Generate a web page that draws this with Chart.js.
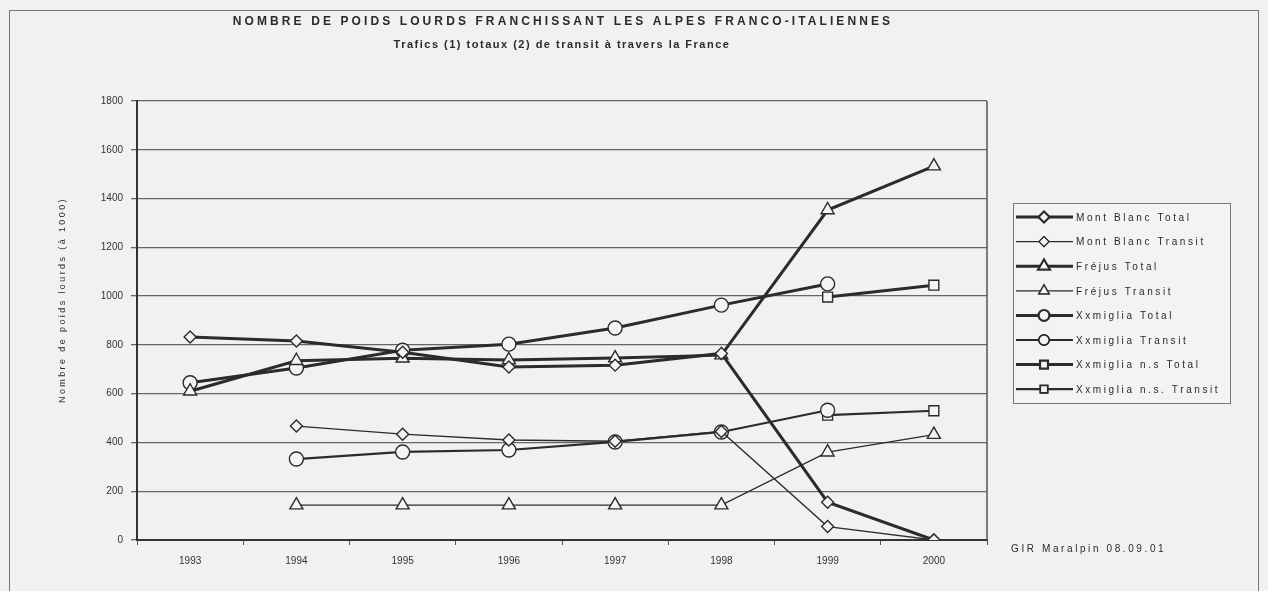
<!DOCTYPE html>
<html>
<head>
<meta charset="utf-8">
<script src="https://cdn.jsdelivr.net/npm/chart.js@4/dist/chart.umd.min.js"></script>
<style>
  html, body { margin: 0; padding: 0; background: #f1f1f0; }
  #wrap { position: relative; width: 1268px; height: 591px; overflow: hidden; }
  #frame { position: absolute; left: 9px; top: 10px; width: 1250px; height: 600px; border: 1px solid #777; box-sizing: border-box; }
  canvas { position: absolute; left: 0; top: 0; }
</style>
</head>
<body>
<div id="wrap">
  <div id="frame"></div>
  <canvas id="c" width="1268" height="591"></canvas>
</div>
<script>
const titleText = 'NOMBRE DE POIDS LOURDS FRANCHISSANT LES ALPES FRANCO-ITALIENNES';
const subtitleText = 'Trafics (1) totaux (2) de transit à travers la France';
const yAxisTitle = 'Nombre de poids lourds (à 1000)';
const sourceText = 'GIR Maralpin 08.09.01';

const years = ['1993', '1994', '1995', '1996', '1997', '1998', '1999', '2000'];
const yTicks = [0, 200, 400, 600, 800, 1000, 1200, 1400, 1600, 1800];

const seriesNames = ['Mont Blanc Total', 'Mont Blanc Transit', 'Fréjus Total', 'Fréjus Transit',
  'Xxmiglia Total', 'Xxmiglia Transit', 'Xxmiglia n.s Total', 'Xxmiglia n.s. Transit'];

const montBlancTotal   = [832, 816, 770, 709, 717, 765, 155, 0];
const montBlancTransit = [null, 467, 434, 410, 405, 445, 55, 0];
const frejusTotal      = [610, 735, 745, 738, 746, 758, 1353, 1533];
const frejusTransit    = [null, 143, 143, 143, 143, 143, 360, 432];
const xxmigliaTotal    = [645, 705, 778, 803, 869, 963, 1050, null];
const xxmigliaTransit  = [null, 332, 361, 369, 402, 443, 532, null];
const xxmigliaNsTotal  = [null, null, null, null, null, null, 996, 1045];
const xxmigliaNsTransit= [null, null, null, null, null, null, 512, 530];

const seriesData = [montBlancTotal, montBlancTransit, frejusTotal, frejusTransit,
  xxmigliaTotal, xxmigliaTransit, xxmigliaNsTotal, xxmigliaNsTransit];
const seriesMarkers = ['rectRot', 'rectRot', 'triangle', 'triangle', 'circle', 'circle', 'rect', 'rect'];
const seriesWidths = [3, 1.3, 3, 1.3, 3, 2.2, 3, 2.2];
const seriesRadius = [6, 6, 7.5, 7.5, 7, 7, 7, 7];

const ink = '#2b2b2b';
const markerFill = '#f4f4f4';
const FONT = '"Liberation Sans", Arial, sans-serif';

const datasets = seriesNames.map((name, i) => ({
  label: name,
  data: seriesData[i],
  borderColor: ink,
  borderWidth: seriesWidths[i],
  pointStyle: seriesMarkers[i],
  pointRadius: seriesRadius[i],
  pointBorderWidth: 1.4,
  pointBorderColor: ink,
  pointBackgroundColor: markerFill,
  tension: 0,
  spanGaps: false
}));

const decor = {
  id: 'decor',
  afterDraw(chart) {
    const ctx = chart.ctx;
    const area = chart.chartArea;
    ctx.save();
    // right border of plot
    ctx.strokeStyle = '#555';
    ctx.lineWidth = 1.5;
    ctx.beginPath();
    ctx.moveTo(area.right, area.top);
    ctx.lineTo(area.right, area.bottom);
    ctx.stroke();

    // titles
    ctx.fillStyle = '#2a2a2a';
    ctx.textAlign = 'center';
    ctx.textBaseline = 'middle';
    ctx.font = 'bold 12px ' + FONT;
    ctx.letterSpacing = '3.1px';
    ctx.fillText(titleText, 563, 22);
    ctx.font = 'bold 11px ' + FONT;
    ctx.letterSpacing = '1.5px';
    ctx.fillText(subtitleText, 562, 45);

    // y axis title
    ctx.save();
    ctx.translate(63, 300);
    ctx.rotate(-Math.PI / 2);
    ctx.font = '9px ' + FONT;
    ctx.letterSpacing = '2.4px';
    ctx.fillText(yAxisTitle, 0, 0);
    ctx.restore();

    // legend
    const lx = 1013, ly = 203, lw = 217, lh = 200;
    ctx.fillStyle = '#f3f3f3';
    ctx.fillRect(lx, ly, lw, lh);
    ctx.strokeStyle = '#777';
    ctx.lineWidth = 1;
    ctx.strokeRect(lx + 0.5, ly + 0.5, lw, lh);
    chart.data.datasets.forEach((ds, i) => {
      const y = 217 + i * 24.6;
      ctx.strokeStyle = ink;
      ctx.lineWidth = ds.borderWidth;
      ctx.beginPath();
      ctx.moveTo(1016, y);
      ctx.lineTo(1073, y);
      ctx.stroke();
      Chart.helpers.drawPoint(ctx, {
        pointStyle: ds.pointStyle,
        rotation: 0,
        radius: ds.pointStyle === 'triangle' ? 6 : 5,
        borderWidth: 1.3
      }, 1044, y);
      ctx.fillStyle = markerFill;
      ctx.strokeStyle = ink;
      ctx.lineWidth = 1.3;
      ctx.fill();
      ctx.stroke();
      ctx.fillStyle = '#2a2a2a';
      ctx.textAlign = 'left';
      ctx.font = '10px ' + FONT;
      ctx.letterSpacing = '2.6px';
      ctx.fillText(ds.label, 1076, y + 1);
    });

    // source note
    ctx.font = '10px ' + FONT;
    ctx.letterSpacing = '2.6px';
    ctx.textAlign = 'left';
    ctx.fillText(sourceText, 1011, 549);
    ctx.restore();
  }
};

new Chart(document.getElementById('c'), {
  type: 'line',
  data: { labels: years, datasets: datasets },
  options: {
    responsive: false,
    animation: false,
    devicePixelRatio: 1,
    layout: { padding: { left: 50, right: 281, top: 101, bottom: 21 } },
    plugins: { legend: { display: false }, title: { display: false }, tooltip: { enabled: false } },
    scales: {
      x: {
        type: 'category',
        offset: true,
        afterFit(s) { s.height = 30; },
        grid: { display: true, offset: true, drawOnChartArea: false, drawTicks: true, tickLength: 5, color: '#555', lineWidth: 1 },
        border: { display: true, color: '#333', width: 2 },
        ticks: { color: '#333', font: { family: FONT, size: 10 }, padding: 10, maxRotation: 0, autoSkip: false }
      },
      y: {
        min: 0,
        max: 1800,
        afterFit(s) { s.width = 87; },
        afterBuildTicks(s) { s.ticks = yTicks.map(v => ({ value: v })); },
        grid: { color: '#666', lineWidth: 1.3, tickLength: 6, drawTicks: true },
        border: { display: true, color: '#333', width: 2 },
        ticks: { color: '#333', font: { family: FONT, size: 10 }, padding: 8, callback: v => String(v) }
      }
    }
  },
  plugins: [decor]
});
</script>
</body>
</html>
